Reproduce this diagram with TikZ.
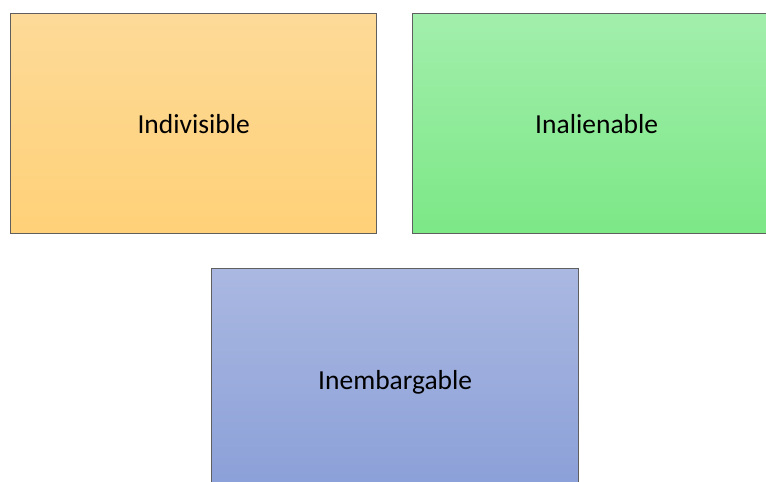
\documentclass[tikz,border=0pt]{standalone}
\usepackage{fontspec}
\setmainfont{Carlito}
\usepackage{xcolor}
\usetikzlibrary{positioning}
\definecolor{orangetop}{RGB}{253,218,152}
\definecolor{orangebot}{RGB}{255,209,120}
\definecolor{greentop}{RGB}{162,238,172}
\definecolor{greenbot}{RGB}{124,232,134}
\definecolor{bluetop}{RGB}{170,184,225}
\definecolor{bluebot}{RGB}{138,159,216}
\definecolor{boxline}{RGB}{95,95,95}

\begin{document}
\begin{tikzpicture}[x=1pt, y=-1pt,
rightbox/.style={draw=boxline, line width=1.4pt, anchor=north west, inner sep=0pt,
  minimum width=#1, minimum height=220pt, font=\fontsize{27.5}{32}\selectfont},
rightbox/.default=366pt,
orangebox/.style={rightbox, top color=orangetop, bottom color=orangebot},
greenbox/.style={rightbox=368pt, top color=greentop, bottom color=greenbot},
bluebox/.style={rightbox=367pt, minimum height=228pt, top color=bluetop, bottom color=bluebot}]
\useasboundingbox (0,0) rectangle (766,482);
\clip (0,0) rectangle (766,482);
\node[orangebox] (indiv) at (10,13) {Indivisible};
\node[greenbox] (inal) at (412,13) {Inalienable};
\node[bluebox] (inemb) at (211,268) {Inembargable};
\end{tikzpicture}
\end{document}
